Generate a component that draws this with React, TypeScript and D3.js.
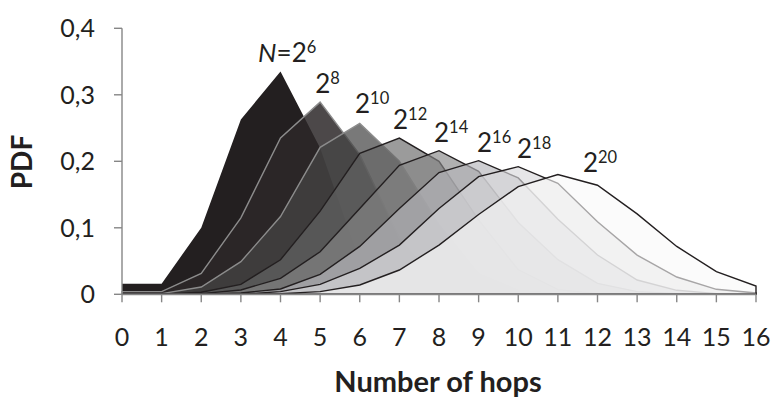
import React from 'react';
import * as d3 from 'd3';

// Hop counts on the x axis
const hops = [0, 1, 2, 3, 4, 5, 6, 7, 8, 9, 10, 11, 12, 13, 14, 15, 16];

// y axis ticks and their (comma decimal) labels
const yTicks = [0, 0.1, 0.2, 0.3, 0.4];
const yTickLabels = ['0', '0,1', '0,2', '0,3', '0,4'];

// Network size N = 2^k for each curve
const exponents = [6, 8, 10, 12, 14, 16, 18, 20];

// Probability of a lookup taking a given number of hops, one list per network size
const pdfN6 = [0.016, 0.016, 0.1, 0.263, 0.335, 0.22, 0.05, 0.004, 0, 0, 0, 0, 0, 0, 0, 0, 0];
const pdfN8 = [0.004, 0.004, 0.0315, 0.115, 0.235, 0.289, 0.21, 0.085, 0.022, 0.004, 0, 0, 0, 0, 0, 0, 0];
const pdfN10 = [0.001, 0.001, 0.011, 0.049, 0.117, 0.221, 0.257, 0.2, 0.105, 0.031, 0.006, 0.001, 0, 0, 0, 0, 0];
const pdfN12 = [0, 0.0003, 0.003, 0.015, 0.052, 0.125, 0.212, 0.235, 0.2, 0.112, 0.037, 0.007, 0.001, 0, 0, 0, 0];
const pdfN14 = [0, 0, 0.001, 0.0065, 0.024, 0.064, 0.129, 0.194, 0.216, 0.185, 0.108, 0.052, 0.0165, 0.004, 0.001, 0, 0];
const pdfN16 = [0, 0, 0, 0.002, 0.008, 0.03, 0.072, 0.129, 0.183, 0.201, 0.175, 0.113, 0.059, 0.0215, 0.006, 0.001, 0];
const pdfN18 = [0, 0, 0, 0, 0.004, 0.015, 0.039, 0.074, 0.129, 0.177, 0.192, 0.167, 0.109, 0.059, 0.026, 0.0075, 0.002];
const pdfN20 = [0, 0, 0, 0, 0.001, 0.004, 0.014, 0.0365, 0.074, 0.12, 0.162, 0.18, 0.164, 0.121, 0.072, 0.034, 0.0125];

const seriesValues = [pdfN6, pdfN8, pdfN10, pdfN12, pdfN14, pdfN16, pdfN18, pdfN20];

// Drawing styles, back (N=2^6) to front (N=2^20)
const fills = ['#231f20', 'rgb(45,40,41)', 'rgb(69,69,69)', 'rgb(101,101,101)', 'rgb(134,134,134)', 'rgb(182,182,186)', 'rgb(216,216,220)', 'rgb(248,248,248)'];
const fillOpacity = [1, 0.85, 0.72, 0.65, 0.65, 0.65, 0.65, 0.62];
const strokes = ['none', '#8c8c8c', '#8c8c8c', '#231f20', '#231f20', '#231f20', '#231f20', '#231f20'];

// Label placement relative to each curve's peak (pixels)
const labelDx = [-22.4, -5, -4.75, -6.4, -5, -1.6, -1.25, 25];
const labelDy = [-9.8, -9.4, -10.7, -8.7, -8.5, -8.9, -8.6, -2.6];

const W = 771;
const H = 398;
const FONT = 'Lato, "Open Sans", sans-serif';
const TEXT = '#231f20';
const AXIS = '#868686';

export default function App() {
  const x = d3.scaleLinear().domain([0, 16]).range([122, 756]);
  const y = d3.scaleLinear().domain([0, 0.4]).range([294.3, 28.3]);

  const area = d3
    .area<number>()
    .x((_, i) => x(hops[i]))
    .y0(y(0))
    .y1((d) => y(d));

  return (
    <svg
      width={W}
      height={H}
      viewBox={`0 0 ${W} ${H}`}
      style={{ position: 'absolute', left: 0, top: 0, background: '#fff' }}
      fontFamily={FONT}
    >
      <rect x={0} y={0} width={W} height={H} fill="#fff" />

      {/* stacked-in-depth areas */}
      {seriesValues.map((vals, s) => (
        <path
          key={`area-${s}`}
          d={area(vals) || ''}
          fill={fills[s]}
          fillOpacity={fillOpacity[s]}
          stroke={strokes[s]}
          strokeWidth={1.4}
          strokeLinejoin="miter"
        />
      ))}

      {/* axes */}
      <line x1={x(0)} x2={x(16)} y1={y(0)} y2={y(0)} stroke={AXIS} strokeWidth={1.8} />
      <line x1={x(0)} x2={x(0)} y1={y(0)} y2={y(0.4)} stroke={AXIS} strokeWidth={1.4} />
      {hops.map((h) => (
        <line key={`xt-${h}`} x1={x(h)} x2={x(h)} y1={y(0)} y2={y(0) + 8} stroke={AXIS} strokeWidth={1.4} />
      ))}
      {yTicks.map((t) => (
        <line key={`yt-${t}`} x1={x(0) - 8} x2={x(0)} y1={y(t)} y2={y(t)} stroke={AXIS} strokeWidth={1.4} />
      ))}

      {/* tick labels */}
      {hops.map((h) => (
        <text key={`xl-${h}`} x={x(h)} y={345.5} textAnchor="middle" fontSize={25} fill={TEXT}>
          {h}
        </text>
      ))}
      {yTicks.map((t, i) => (
        <text key={`yl-${t}`} x={95} y={y(t) + 9} textAnchor="end" fontSize={25} fill={TEXT}>
          {yTickLabels[i]}
        </text>
      ))}

      {/* axis titles */}
      <text x={438} y={392} textAnchor="middle" fontSize={29} fontWeight="bold" fill={TEXT}>
        Number of hops
      </text>
      <text
        transform={`translate(32,162) rotate(-90)`}
        textAnchor="middle"
        fontSize={28}
        fontWeight="bold"
        fill={TEXT}
      >
        PDF
      </text>

      {/* curve labels at the peaks */}
      {seriesValues.map((vals, s) => {
        const peak = d3.maxIndex(vals);
        const lx = x(hops[peak]) + labelDx[s];
        const ly = y(vals[peak]) + labelDy[s];
        return (
          <text key={`lab-${s}`} x={lx} y={ly} fontSize={26} fill={TEXT}>
            {s === 0 && <tspan fontStyle="italic">N</tspan>}
            {s === 0 && '='}
            <tspan>2</tspan>
            <tspan dy={-9} fontSize={16.5}>
              {exponents[s]}
            </tspan>
          </text>
        );
      })}
    </svg>
  );
}
